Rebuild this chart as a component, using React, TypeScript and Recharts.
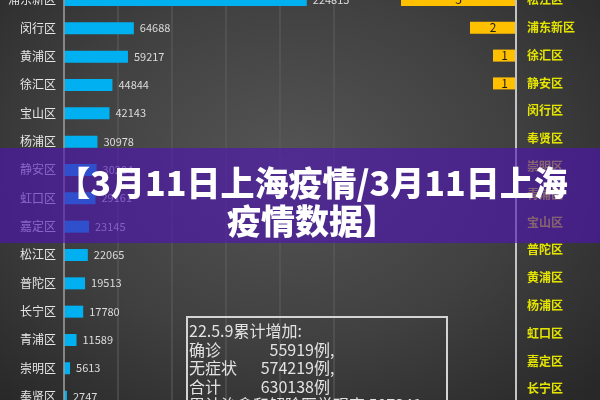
import React from 'react';
import { BarChart, Bar, XAxis, YAxis, CartesianGrid, LabelList } from 'recharts';

// 左：各区累计（阳性）
const leftDistricts = ['浦东新区', '闵行区', '黄浦区', '徐汇区', '宝山区', '杨浦区', '静安区', '虹口区', '嘉定区', '松江区', '普陀区', '长宁区', '青浦区', '崇明区', '奉贤区'];
const leftValues = [224815, 64688, 59217, 44844, 42143, 30978, 30204, 29161, 23145, 22065, 19513, 17780, 11589, 5613, 2747];
const leftTicks = [0, 50000, 100000, 150000, 200000, 250000];

// 右：各区当日新增
const rightDistricts = ['松江区', '浦东新区', '徐汇区', '静安区', '闵行区', '奉贤区', '崇明区', '青浦区', '宝山区', '普陀区', '黄浦区', '杨浦区', '虹口区', '嘉定区', '长宁区'];
const rightValues = [5, 2, 1, 1, 0, 0, 0, 0, 0, 0, 0, 0, 0, 0, 0];

const summaryRows = [
  { label: '确诊', value: '55919', tail: '例,' },
  { label: '无症状', value: '574219', tail: '例,' },
  { label: '合计', value: '630138', tail: '例' },
];

const leftData = leftDistricts.map((name, i) => ({ name, value: leftValues[i] }));
const rightData = rightDistricts.map((name, i) => ({ name, value: rightValues[i] }));

const FONT = '"Noto Sans CJK SC", "Noto Sans", sans-serif';

export default function App() {
  return (
    <div
      style={{
        position: 'fixed',
        left: 0,
        top: 0,
        width: 600,
        height: 400,
        overflow: 'hidden',
        fontFamily: FONT,
        background: 'radial-gradient(ellipse 70% 80% at 48% 42%, #555555 0%, #404040 55%, #282828 100%)',
      }}
    >
      <div style={{ position: 'absolute', left: 0, top: -14 }}>
        <BarChart width={360} height={425} data={leftData} layout="vertical" margin={{ top: 0, right: 26, bottom: 0, left: 0 }}>
          <CartesianGrid horizontal={false} stroke="#5e5e5e" strokeWidth={1} />
          <XAxis type="number" domain={[0, 250000]} ticks={leftTicks} hide />
          <YAxis
            type="category"
            dataKey="name"
            width={64}
            interval={0}
            tickLine={false}
            axisLine={{ stroke: '#9a9a9a', strokeWidth: 1.5 }}
            tick={{ fill: '#e6e6e6', fontSize: 12 }}
          />
          <Bar dataKey="value" fill="#00b0f0" barSize={12} isAnimationActive={false}>
            <LabelList dataKey="value" position="right" offset={6} fill="#dcdcdc" fontSize={11} />
          </Bar>
        </BarChart>
      </div>

      <div style={{ position: 'absolute', left: 286, top: -14 }}>
        <BarChart width={314} height={417} data={rightData} layout="vertical" margin={{ top: 0, right: 0, bottom: 0, left: 0 }}>
          <XAxis type="number" domain={[0, 10]} reversed hide />
          <YAxis
            type="category"
            dataKey="name"
            orientation="right"
            width={84}
            interval={0}
            tickLine={false}
            tickMargin={5}
            axisLine={{ stroke: '#c4c4c4', strokeWidth: 2 }}
            tick={{ fill: '#e4e400', fontSize: 12, fontWeight: 700 }}
          />
          <Bar dataKey="value" fill="#ffc000" barSize={12} isAnimationActive={false}>
            <LabelList dataKey="value" position="center" fill="#1c1c1c" fontSize={12} />
          </Bar>
        </BarChart>
      </div>

      <div
        style={{
          position: 'absolute',
          left: 186,
          top: 316,
          width: 262,
          height: 110,
          boxSizing: 'border-box',
          border: '2px solid #d4d4d4',
          color: '#e2e2e2',
          fontSize: 16,
          lineHeight: '18.5px',
          padding: '3px 0 0 1px',
        }}
      >
        <div>22.5.9累计增加:</div>
        {summaryRows.map((r) => (
          <div key={r.label} style={{ display: 'flex' }}>
            <span style={{ width: 52 }}>{r.label}</span>
            <span style={{ width: 73, textAlign: 'right' }}>{r.value}</span>
            <span>{r.tail}</span>
          </div>
        ))}
        <div style={{ whiteSpace: 'nowrap' }}>累计治愈和解除医学观察 507341</div>
      </div>

      <div
        style={{
          position: 'absolute',
          left: 0,
          top: 148,
          width: 600,
          height: 95,
          background: 'rgba(78, 20, 182, 0.62)',
        }}
      />
      <div
        style={{
          position: 'absolute',
          left: 0,
          top: 163,
          width: 600,
          boxSizing: 'border-box',
          paddingLeft: 24,
          textAlign: 'center',
          color: '#ffffff',
          fontSize: 34,
          fontWeight: 900,
          lineHeight: '38px',
          whiteSpace: 'nowrap',
        }}
      >
        <div>【3月11日上海疫情/3月11日上海</div>
        <div>疫情数据】</div>
      </div>
    </div>
  );
}
